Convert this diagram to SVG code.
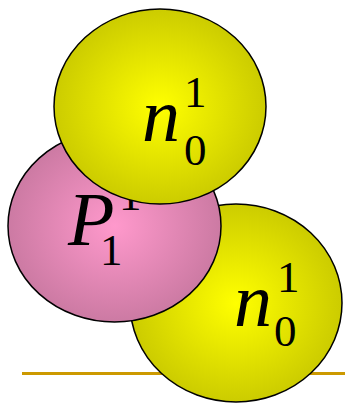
<svg xmlns="http://www.w3.org/2000/svg" width="345" height="403" viewBox="0 0 345 403">
<defs>
<radialGradient id="gy" cx="0.5" cy="0.5" r="0.5">
<stop offset="0" stop-color="#FFFF00"/>
<stop offset="1" stop-color="#CCCC00"/>
</radialGradient>
<radialGradient id="gp" cx="0.5" cy="0.5" r="0.5">
<stop offset="0" stop-color="#FF99CC"/>
<stop offset="1" stop-color="#CC7AA3"/>
</radialGradient>
<style>
.node{stroke:#000;stroke-width:1.5}
.y{fill:url(#gy)}
.p{fill:url(#gp)}
.it{font-family:"Liberation Serif","Times New Roman",serif;font-style:italic;font-size:76px;fill:#000}
.dg{font-family:"Liberation Serif","Times New Roman",serif;font-size:45px;fill:#000}
</style>
</defs>
<g id="connectors">
<line x1="22" y1="373.5" x2="345" y2="373.5" stroke="#CC9900" stroke-width="3"/>
</g>
<g id="node-n0-bottom">
<ellipse class="node y" cx="236" cy="303" rx="106" ry="99"/>
<text class="it" x="234" y="326">n</text>
<text class="dg" x="277" y="291.5">1</text>
<text class="dg" x="274" y="346">0</text>
</g>
<g id="node-P1">
<ellipse class="node p" cx="114.5" cy="226" rx="106.5" ry="96"/>
<text class="it" x="68" y="245">P</text>
<text class="dg" x="119" y="210">1</text>
<text class="dg" x="100" y="264.5">1</text>
</g>
<g id="node-n0-top">
<ellipse class="node y" cx="160" cy="106.5" rx="106" ry="97.5"/>
<text class="it" x="142" y="141">n</text>
<text class="dg" x="184" y="106.5">1</text>
<text class="dg" x="184" y="164.5">0</text>
</g>
</svg>
